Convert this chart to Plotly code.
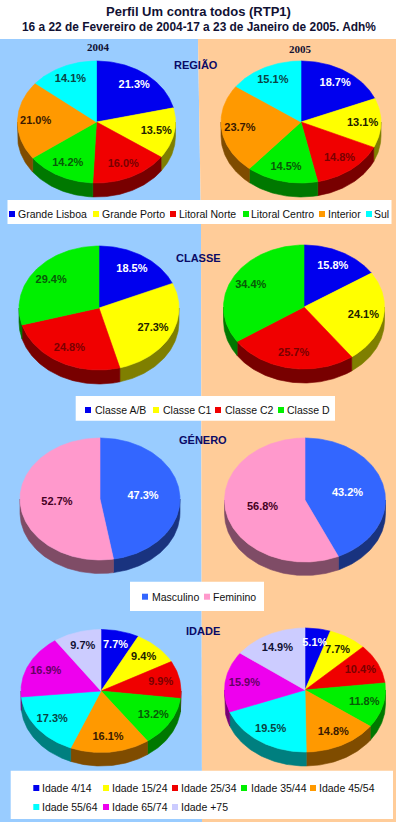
import math
import plotly.graph_objects as go

TITLE_1 = "Perfil Um contra todos (RTP1)"
TITLE_2 = "16 a 22 de Fevereiro de 2004-17 a 23 de Janeiro de 2005. Adh%"
YEARS = ["2004", "2005"]

regiao_labels = ["Grande Lisboa", "Grande Porto", "Litoral Norte", "Litoral Centro", "Interior", "Sul"]
regiao_2004 = [21.3, 13.5, 16.0, 14.2, 21.0, 14.1]
regiao_2005 = [18.7, 13.1, 14.8, 14.5, 23.7, 15.1]

classe_labels = ["Classe A/B", "Classe C1", "Classe C2", "Classe D"]
classe_2004 = [18.5, 27.3, 24.8, 29.4]
classe_2005 = [15.8, 24.1, 25.7, 34.4]

genero_labels = ["Masculino", "Feminino"]
genero_2004 = [47.3, 52.7]
genero_2005 = [43.2, 56.8]

idade_labels = ["Idade 4/14", "Idade 15/24", "Idade 25/34", "Idade 35/44", "Idade 45/54",
                "Idade 55/64", "Idade 65/74", "Idade +75"]
idade_2004 = [7.7, 9.4, 9.9, 13.2, 16.1, 17.3, 16.9, 9.7]
idade_2005 = [5.1, 7.7, 10.4, 11.8, 14.8, 19.5, 15.9, 14.9]

BLUE, YEL, RED, GRN, ORG, CYA, MAG, LAV = ("#0000EE", "#FFFF00", "#F00000", "#00F000",
                                           "#FF9900", "#00FFFF", "#EE00EE", "#CCCCFF")
MALE, FEMALE = "#3366FF", "#FF99CC"
INK = {BLUE: "#FFFFFF", YEL: "#222200", RED: "#7A0000", GRN: "#085A08", ORG: "#3A1A00",
       CYA: "#0A4444", MAG: "#660066", LAV: "#111133", MALE: "#FFFFFF", FEMALE: "#440022"}
NAVY = "#0A0A66"

fig = go.Figure()


def shade(col, k=0.5):
    return "#%02X%02X%02X" % tuple(int(int(col[i:i + 2], 16) * k) for i in (1, 3, 5))


def poly(xs, ys, col):
    fig.add_trace(go.Scatter(x=xs, y=ys, mode="lines", fill="toself", fillcolor=col,
                             line=dict(color=col, width=0.6), hoverinfo="skip", showlegend=False))


def pie(vals, cols, cx, cy, rx, ry, depth, lab_r):
    total = sum(vals)
    edges = [0.0]
    for v in vals:
        edges.append(edges[-1] + v / total * 360)
    # side wall, only the front half (90..270 deg clockwise from the top)
    for a, b, c in zip(edges, edges[1:], cols):
        lo, hi = max(a, 90), min(b, 270)
        if lo >= hi:
            continue
        n = max(2, int(hi - lo) + 1)
        th = [math.radians(lo + (hi - lo) * i / (n - 1)) for i in range(n)]
        xs = [cx + rx * math.sin(t) for t in th]
        ys = [cy - ry * math.cos(t) for t in th]
        poly(xs + xs[::-1] + xs[:1], ys + [y + depth for y in ys[::-1]] + ys[:1], shade(c))
    # top face
    lx, ly, lt, lc = [], [], [], []
    for a, b, c, v in zip(edges, edges[1:], cols, vals):
        n = max(2, int(b - a) + 1)
        th = [math.radians(a + (b - a) * i / (n - 1)) for i in range(n)]
        xs = [cx] + [cx + rx * math.sin(t) for t in th] + [cx]
        ys = [cy] + [cy - ry * math.cos(t) for t in th] + [cy]
        poly(xs, ys, c)
        m = math.radians((a + b) / 2)
        lx.append(cx + lab_r * rx * math.sin(m))
        ly.append(cy - lab_r * ry * math.cos(m))
        lt.append(f"{v:.1f}%")
        lc.append(INK[c])
    return lx, ly, lt, lc


def legend(box, items, cols, rows):
    x0, y0, x1, y1 = box
    fig.add_shape(type="rect", x0=x0, y0=y0, x1=x1, y1=y1, fillcolor="#FFFFFF", line_width=0, layer="below")
    for name, col, (mx, tx, y) in zip(items, cols, rows):
        fig.add_trace(go.Scatter(x=[mx], y=[y], mode="markers", hoverinfo="skip", showlegend=False,
                                 marker=dict(symbol="square", size=6, color=col, line_width=0)))
        fig.add_annotation(x=tx, y=y, text=name, showarrow=False, xanchor="left", yanchor="middle",
                           borderpad=0, borderwidth=0,
                           font=dict(family="Liberation Sans", size=10.5, color="#111111"))


def head(x, y, text, size=12, family="Liberation Sans", color="#111133"):
    fig.add_annotation(x=x, y=y, text=f"<b>{text}</b>", showarrow=False, xanchor="center", yanchor="middle",
                       font=dict(family=family, size=size, color=color))


fig.add_shape(type="path", path="M 0 39 L 198 39 L 201 225 L 202 822 L 0 822 Z",
              fillcolor="#99CCFF", line_width=0, layer="below")
fig.add_shape(type="path", path="M 198 39 L 396 39 L 396 822 L 202 822 L 201 225 Z",
              fillcolor="#FFCC99", line_width=0, layer="below")

reg_c = [BLUE, YEL, RED, GRN, ORG, CYA]
cla_c = [BLUE, YEL, RED, GRN]
gen_c = [MALE, FEMALE]
ida_c = [BLUE, YEL, RED, GRN, ORG, CYA, MAG, LAV]

pies = [
    (regiao_2004, reg_c, 96.5, 122, 79, 61, 14, 0.77),
    (regiao_2005, reg_c, 301, 122, 80, 61, 14, 0.77),
    (classe_2004, cla_c, 99, 308, 80, 62, 14, 0.75),
    (classe_2005, cla_c, 304, 307, 80.5, 62, 14, 0.75),
    (genero_2004, gen_c, 100, 499, 80, 61, 13.5, 0.54),
    (genero_2005, gen_c, 305, 500, 80.5, 62, 13.5, 0.54),
    (idade_2004, ida_c, 101, 691, 80, 61.5, 13.5, 0.76),
    (idade_2005, ida_c, 305, 690, 80.5, 62, 14, 0.76),
]
labels = [pie(*p) for p in pies]
for lx, ly, lt, lc in labels:
    fig.add_trace(go.Scatter(x=lx, y=ly, mode="text", text=lt, textposition="middle center", hoverinfo="skip",
                             showlegend=False,
                             textfont=dict(family="Liberation Sans", size=11, color=lc, weight="bold")))

legend((7.5, 200, 391.5, 224), regiao_labels, reg_c,
       [(12, 17.7, 214), (96, 101.7, 214), (173, 179, 214), (246, 250.7, 214), (322, 328, 214), (369, 374, 214)])
legend((75.7, 396, 335, 420.7), classe_labels, cla_c,
       [(88, 94.7, 410), (156, 163, 410), (218, 224.7, 410), (281, 286.7, 410)])
legend((130, 581.7, 264, 611), genero_labels, gen_c, [(145, 151.7, 596.7), (207, 213, 596.7)])
legend((10.7, 770.7, 393, 819), idade_labels, ida_c,
       [(36.3, 42.3, 788), (106, 111.7, 788), (175, 181, 788), (244, 250.7, 788), (313, 319.3, 788),
        (36.3, 42.3, 807), (106, 111.7, 807), (175, 181, 807)])

head(198, 11.7, TITLE_1, 13)
head(199, 26.7, TITLE_2, 11.9)
head(98, 47.3, YEARS[0], 11, "Liberation Serif")
head(300.5, 49.3, YEARS[1], 11, "Liberation Serif")
head(196, 65, "REGIÃO", 11, color=NAVY)
head(198, 257.7, "CLASSE", 11, color=NAVY)
head(203, 440, "GÉNERO", 11, color=NAVY)
head(203, 631, "IDADE", 11, color=NAVY)

fig.update_layout(width=396, height=822, margin=dict(l=0, r=0, t=0, b=0), autosize=False,
                  paper_bgcolor="#FFFFFF", plot_bgcolor="#FFFFFF", showlegend=False)
fig.update_xaxes(range=[0, 396], visible=False, fixedrange=True)
fig.update_yaxes(range=[822, 0], visible=False, fixedrange=True)
fig.write_html("out.html", config={"displayModeBar": False},
               post_script="document.body.style.margin='0';document.body.style.overflow='hidden';")
